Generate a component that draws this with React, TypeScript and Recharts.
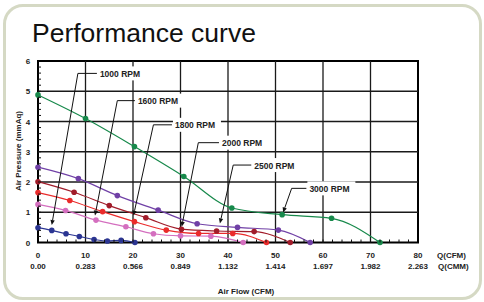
import { LineChart, Line, XAxis, YAxis, ReferenceLine, ReferenceArea } from 'recharts'

document.body.style.margin = '0'

const CFM_TICKS = [0, 10, 20, 30, 40, 50, 60, 70, 80]
const CMM_LABELS = ['0.00', '0.283', '0.566', '0.849', '1.132', '1.414', '1.697', '1.982', '2.263']
const PRESSURE_TICKS = [0, 1, 2, 3, 4, 5, 6]

// minor tick positions (every 2 CFM, every 0.2 mmAq)
const X_MINOR = Array.from({ length: 41 }, (_, i) => i * 2)
const Y_MINOR = Array.from({ length: 31 }, (_, i) => i / 5)

const rpm1000 = [
  { q: 0, p: 0.49 }, { q: 2.9, p: 0.4 }, { q: 5.9, p: 0.29 }, { q: 8.7, p: 0.2 },
  { q: 11.8, p: 0.1 }, { q: 14.6, p: 0.05 }, { q: 17.5, p: 0.07 }, { q: 20.4, p: 0 },
]
const rpm1600 = [
  { q: 0, p: 1.26 }, { q: 5.8, p: 1.06 }, { q: 12.2, p: 0.74 }, { q: 18.5, p: 0.52 },
  { q: 24.3, p: 0.29 }, { q: 30, p: 0.22 }, { q: 36.4, p: 0.21 }, { q: 43.2, p: 0 },
]
const rpm1800 = [
  { q: 0, p: 1.65 }, { q: 6.7, p: 1.39 }, { q: 13.6, p: 1.02 }, { q: 20.3, p: 0.69 },
  { q: 27, p: 0.41 }, { q: 33.8, p: 0.3 }, { q: 41, p: 0.3 }, { q: 48.1, p: 0 },
]
const rpm2000 = [
  { q: 0, p: 2.01 }, { q: 7.6, p: 1.66 }, { q: 15, p: 1.22 }, { q: 22.7, p: 0.82 },
  { q: 30.2, p: 0.44 }, { q: 37.6, p: 0.38 }, { q: 45.5, p: 0.36 }, { q: 53.1, p: 0 },
]
const rpm2500 = [
  { q: 0, p: 2.49 }, { q: 8.5, p: 2.11 }, { q: 16.7, p: 1.55 }, { q: 25.3, p: 1.07 },
  { q: 33.5, p: 0.62 }, { q: 42, p: 0.5 }, { q: 50.6, p: 0.41 }, { q: 57.3, p: 0 },
]
const rpm3000 = [
  { q: 0, p: 4.88 }, { q: 10, p: 4.1 }, { q: 20.3, p: 3.17 }, { q: 30.7, p: 2.18 },
  { q: 40.8, p: 1.14 }, { q: 51.4, p: 0.92 }, { q: 61.8, p: 0.8 }, { q: 72, p: 0 },
]

const SERIES = [
  { name: '3000 RPM', color: '#17894b', data: rpm3000 },
  { name: '2500 RPM', color: '#7040a6', data: rpm2500 },
  { name: '2000 RPM', color: '#a11c2a', data: rpm2000 },
  { name: '1800 RPM', color: '#ea2b2b', data: rpm1800 },
  { name: '1600 RPM', color: '#d46fbf', data: rpm1600 },
  { name: '1000 RPM', color: '#2b3592', data: rpm1000 },
]

// callouts: elbow of the leader, where the label starts, and where the arrow points
const CALLOUTS = [
  { label: '1000 RPM', elbowQ: 8.4, elbowP: 5.59, labelQ: 12.4, tipQ: 2.9, tipP: 0.58 },
  { label: '1600 RPM', elbowQ: 16.7, elbowP: 4.69, labelQ: 20.4, tipQ: 12, tipP: 0.89 },
  { label: '1800 RPM', elbowQ: 24.3, elbowP: 3.89, labelQ: 28.2, tipQ: 20.1, tipP: 0.89 },
  { label: '2000 RPM', elbowQ: 33.75, elbowP: 3.3, labelQ: 38.1, tipQ: 30.25, tipP: 0.52 },
  { label: '2500 RPM', elbowQ: 41.1, elbowP: 2.56, labelQ: 44.9, tipQ: 38.3, tipP: 0.63 },
  { label: '3000 RPM', elbowQ: 53.4, elbowP: 1.79, labelQ: 56.5, tipQ: 51.6, tipP: 0.99 },
]

const FONT = 'Arial, "Liberation Sans", Helvetica, sans-serif'

function XTick(props: any) {
  const { x, y, payload } = props
  const v = payload.value
  const i = CFM_TICKS.indexOf(v)
  return (
    <g>
      {v > 0 && v < 80 && <line x1={x} y1={y} x2={x} y2={y - 3} stroke="#111" strokeWidth={1} />}
      {i >= 0 && (
        <>
          <text x={x} y={y + 15.5} textAnchor="middle" fontSize={8} fontWeight="bold" fontFamily={FONT} fill="#222">
            {v}
          </text>
          <text x={x} y={y + 26.5} textAnchor="middle" fontSize={8} fontWeight="bold" fontFamily={FONT} fill="#222">
            {CMM_LABELS[i]}
          </text>
        </>
      )}
    </g>
  )
}

function YTick(props: any) {
  const { x, y, payload } = props
  const v = payload.value
  const major = PRESSURE_TICKS.includes(v)
  return (
    <g>
      {v > 0 && v < 6 && <line x1={x} y1={y} x2={x + 3} y2={y} stroke="#111" strokeWidth={1} />}
      {major && (
        <text x={x - 10} y={y + 3} textAnchor="middle" fontSize={8} fontWeight="bold" fontFamily={FONT} fill="#222">
          {v}
        </text>
      )}
    </g>
  )
}

function ArrowLeader(props: any) {
  const { x1, y1, x2, y2 } = props
  const ang = Math.atan2(y2 - y1, x2 - x1)
  const len = 5
  const w = 2.2
  const bx = x2 - len * Math.cos(ang)
  const by = y2 - len * Math.sin(ang)
  const px = -Math.sin(ang) * w
  const py = Math.cos(ang) * w
  return (
    <g>
      <line x1={x1} y1={y1} x2={bx} y2={by} stroke="#111" strokeWidth={1} />
      <polygon points={`${x2},${y2} ${bx + px},${by + py} ${bx - px},${by - py}`} fill="#111" />
    </g>
  )
}

function LabelLeader(props: any) {
  const { x1, y1, x2, text } = props
  return (
    <g>
      <rect x={x2 + 1} y={y1 - 7} width={48} height={14} fill="#fff" />
      <line x1={x1} y1={y1} x2={x2} y2={y1} stroke="#111" strokeWidth={1} />
      <text x={x2 + 3} y={y1 + 3.5} fontSize={8.5} fontWeight="bold" fontFamily={FONT} fill="#222">
        {text}
      </text>
    </g>
  )
}

export default function App() {
  return (
    <div style={{ position: 'relative', width: 484, height: 302, background: '#fff', overflow: 'hidden' }}>
      <div
        style={{
          position: 'absolute',
          left: 3,
          top: 4,
          width: 473,
          height: 290,
          border: '3.5px solid #d5d9c4',
          borderRadius: 20,
        }}
      />
      <div
        style={{
          position: 'absolute',
          left: 32,
          top: 20,
          fontFamily: FONT,
          fontSize: 26.5,
          lineHeight: '26.5px',
          color: '#111',
          whiteSpace: 'nowrap',
        }}
      >
        Performance curve
      </div>
      <div style={{ position: 'absolute', left: 0, top: 0 }}>
        <LineChart width={484} height={302} margin={{ top: 61, right: 66, left: 0, bottom: 0 }}>
          <XAxis
            type="number"
            dataKey="q"
            domain={[0, 80]}
            ticks={X_MINOR}
            interval={0}
            tick={<XTick />}
            tickLine={false}
            axisLine={false}
            tickSize={0}
            tickMargin={0}
            height={59.5}
          />
          <YAxis
            type="number"
            dataKey="p"
            domain={[0, 6]}
            ticks={Y_MINOR}
            interval={0}
            tick={<YTick />}
            tickLine={false}
            axisLine={false}
            tickSize={0}
            tickMargin={0}
            width={38}
          />
          {CFM_TICKS.slice(1, -1).map(v => (
            <ReferenceLine key={`gx${v}`} x={v} stroke="#1a1a1a" strokeWidth={1.3} />
          ))}
          {PRESSURE_TICKS.slice(1, -1).map(v => (
            <ReferenceLine key={`gy${v}`} y={v} stroke="#1a1a1a" strokeWidth={1.3} />
          ))}
          {CALLOUTS.map(c => (
            <ReferenceLine
              key={`h${c.label}`}
              segment={[{ x: c.elbowQ, y: c.elbowP }, { x: c.labelQ, y: c.elbowP }]}
              shape={(p: any) => <LabelLeader {...p} text={c.label} />}
            />
          ))}
          {SERIES.map(s => (
            <Line
              key={s.name}
              data={s.data}
              dataKey="p"
              name={s.name}
              type="monotone"
              stroke={s.color}
              strokeWidth={1.2}
              dot={{ r: 2.8, fill: s.color, stroke: s.color, strokeWidth: 0 }}
              isAnimationActive={false}
            />
          ))}
          {CALLOUTS.map(c => (
            <ReferenceLine
              key={`a${c.label}`}
              segment={[{ x: c.elbowQ, y: c.elbowP }, { x: c.tipQ, y: c.tipP }]}
              shape={(p: any) => <ArrowLeader {...p} />}
            />
          ))}
          <ReferenceArea x1={0} x2={80} y1={0} y2={6} fill="none" fillOpacity={0} stroke="#000" strokeWidth={2} />
        </LineChart>
      </div>
      <svg width={484} height={302} style={{ position: 'absolute', left: 0, top: 0, pointerEvents: 'none' }}>
        <text
          transform="translate(21,151) rotate(-90)"
          textAnchor="middle"
          fontSize={8}
          fontWeight="bold"
          fontFamily={FONT}
          fill="#222"
        >
          Air Pressure (mmAq)
        </text>
        <text x={437} y={258} fontSize={8} fontWeight="bold" fontFamily={FONT} fill="#222">
          Q(CFM)
        </text>
        <text x={438} y={269} fontSize={8} fontWeight="bold" fontFamily={FONT} fill="#222">
          Q(CMM)
        </text>
        <text x={246} y={294} textAnchor="middle" fontSize={8} fontWeight="bold" fontFamily={FONT} fill="#222">
          Air Flow (CFM)
        </text>
      </svg>
    </div>
  )
}
